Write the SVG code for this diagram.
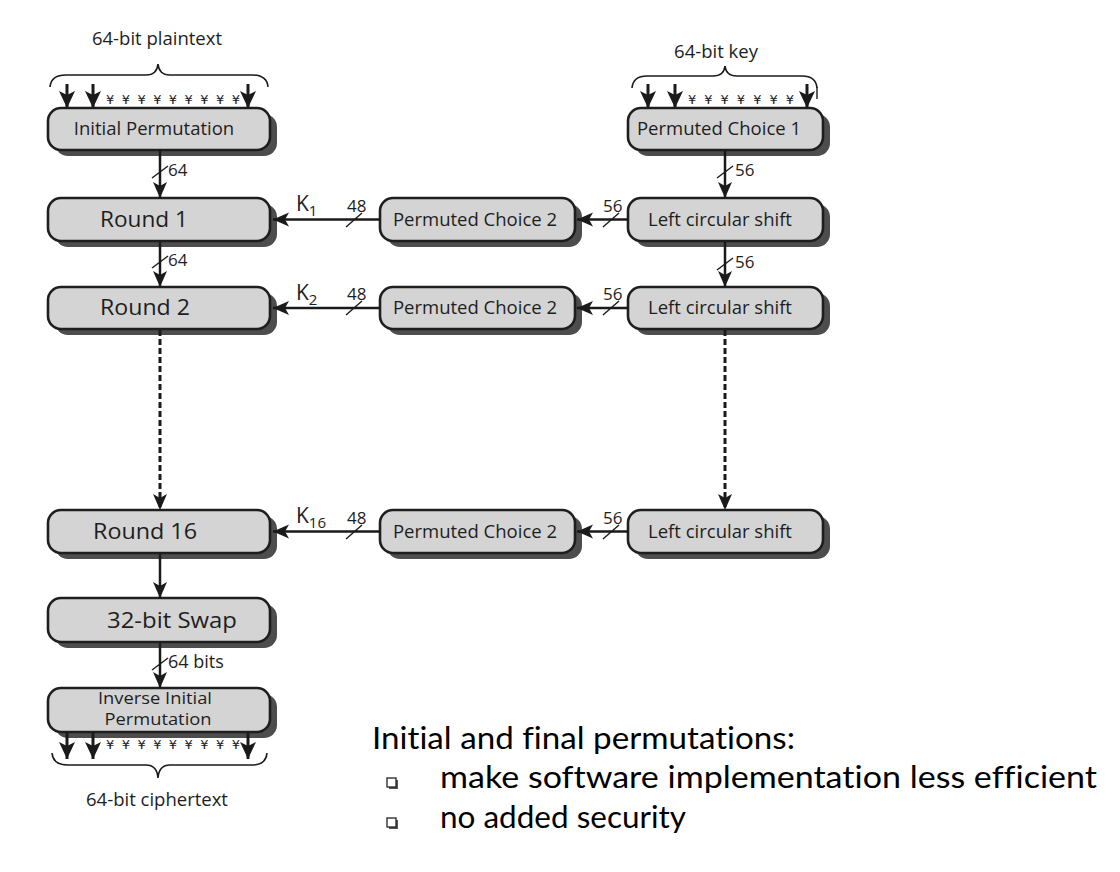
<svg xmlns="http://www.w3.org/2000/svg" width="1120" height="872" viewBox="0 0 1120 872">
<defs>
<marker id="ah" markerUnits="userSpaceOnUse" markerWidth="18" markerHeight="16" refX="16" refY="7" orient="auto">
<path d="M0,0 L16,7 L0,14 L4,7 z" fill="#1a1a1a"/>
</marker>
<marker id="ahb" markerUnits="userSpaceOnUse" markerWidth="20" markerHeight="18" refX="17" refY="8" orient="auto">
<path d="M0,0 L17,8 L0,16 L4,8 z" fill="#1a1a1a"/>
</marker>
<style>
.sh{fill:#4d4d4d}
.bx{fill:#d4d4d4;stroke:#1e1e1e;stroke-width:2.6}
.t{font-family:"Open Sans","DejaVu Sans",sans-serif;fill:#1e1e1e;text-anchor:middle}
.s{font-size:18.5px}
.lb{font-size:18.5px}
.r{font-size:21px}
.iv{font-size:16px}
.n{font-family:"Open Sans","DejaVu Sans",sans-serif;fill:#1e1e1e;font-size:17px}
.ln{stroke:#1a1a1a;stroke-width:2.5;fill:none}
.in{stroke:#1a1a1a;stroke-width:3;fill:none}
.dl{stroke:#1a1a1a;stroke-width:3;fill:none;stroke-dasharray:6 3}
.sl{stroke:#1a1a1a;stroke-width:1.4}
.br{stroke:#1a1a1a;stroke-width:1.6;fill:none}
.y{font-family:"DejaVu Sans",sans-serif;font-size:13px;fill:#1e1e1e}
.k{font-family:"Open Sans","DejaVu Sans",sans-serif;fill:#1e1e1e;font-size:21px}
.ks{font-size:15px}
.body{font-family:Lato,"Open Sans",sans-serif;fill:#000;font-size:31px;font-variant-ligatures:none}
</style>
</defs>

<!-- input/output labels and braces -->
<g id="plaintext">
<text class="t lb" x="157" y="45">64-bit plaintext</text>
<path class="br" d="M50,87 Q51,75 66,75 L146,75 Q157,75 158,64 Q159,75 170,75 L252,75 Q267,75 268,87"/>
<line class="in" x1="67" y1="84" x2="67" y2="108" marker-end="url(#ahb)"/>
<line class="in" x1="93" y1="84" x2="93" y2="108" marker-end="url(#ahb)"/>
<line class="in" x1="248" y1="84" x2="248" y2="108" marker-end="url(#ahb)"/>
<text class="y" x="106" y="104" textLength="134" lengthAdjust="spacing">¥¥¥¥¥¥¥¥¥</text>
</g>

<g id="key">
<text class="t lb" x="716" y="58">64-bit key</text>
<path class="br" d="M632,88 Q633,76 647,76 L713,76 Q724,76 725,66 Q726,76 737,76 L802,76 Q816,76 817,88"/>
<line class="in" x1="648" y1="84" x2="648" y2="108" marker-end="url(#ahb)"/>
<line class="in" x1="675" y1="84" x2="675" y2="108" marker-end="url(#ahb)"/>
<line class="in" x1="807" y1="84" x2="807" y2="108" marker-end="url(#ahb)"/>
<text class="y" x="688" y="104" textLength="106" lengthAdjust="spacing">¥¥¥¥¥¥¥</text>
<line class="sl" x1="817" y1="87" x2="817" y2="99"/>
</g>

<!-- left column -->
<g id="ip">
<rect class="sh" x="55" y="114" width="222" height="42" rx="13"/>
<rect class="bx" x="48" y="108" width="222" height="42" rx="13"/>
<text class="t s" x="154" y="135">Initial Permutation</text>
</g>
<g id="round1">
<rect class="sh" x="55" y="204" width="222" height="43" rx="13"/>
<rect class="bx" x="48" y="198" width="222" height="43" rx="13"/>
<text class="t r" x="144" y="227" textLength="88" lengthAdjust="spacingAndGlyphs">Round 1</text>
</g>
<g id="round2">
<rect class="sh" x="55" y="293" width="222" height="42" rx="13"/>
<rect class="bx" x="48" y="287" width="222" height="42" rx="13"/>
<text class="t r" x="145" y="315" textLength="90" lengthAdjust="spacingAndGlyphs">Round 2</text>
</g>
<g id="round16">
<rect class="sh" x="55" y="516" width="222" height="43" rx="13"/>
<rect class="bx" x="48" y="510" width="222" height="43" rx="13"/>
<text class="t r" x="145" y="539" textLength="104" lengthAdjust="spacingAndGlyphs">Round 16</text>
</g>
<g id="swap">
<rect class="sh" x="55" y="604" width="222" height="44" rx="13"/>
<rect class="bx" x="48" y="598" width="222" height="44" rx="13"/>
<text class="t r" x="172" y="628" textLength="130" lengthAdjust="spacingAndGlyphs">32-bit Swap</text>
</g>
<g id="iip">
<rect class="sh" x="55" y="694" width="222" height="44" rx="13"/>
<rect class="bx" x="48" y="688" width="222" height="44" rx="13"/>
<text class="t iv" x="155" y="704" textLength="114" lengthAdjust="spacingAndGlyphs">Inverse Initial</text>
<text class="t iv" x="158" y="725" textLength="107" lengthAdjust="spacingAndGlyphs">Permutation</text>
</g>

<g id="ciphertext">
<line class="in" x1="67" y1="732" x2="67" y2="759" marker-end="url(#ahb)"/>
<line class="in" x1="93" y1="732" x2="93" y2="759" marker-end="url(#ahb)"/>
<line class="in" x1="248" y1="732" x2="248" y2="759" marker-end="url(#ahb)"/>
<text class="y" x="106" y="749" textLength="134" lengthAdjust="spacing">¥¥¥¥¥¥¥¥¥</text>
<path class="br" d="M52,753 Q53,765 68,765 L146,765 Q157,765 158,778 Q159,765 170,765 L252,765 Q266,765 267,753"/>
<text class="t lb" x="157" y="806">64-bit ciphertext</text>
</g>

<!-- right column -->
<g id="pc1">
<rect class="sh" x="635" y="114" width="195" height="42" rx="13"/>
<rect class="bx" x="628" y="108" width="195" height="42" rx="13"/>
<text class="t s" x="719" y="135">Permuted Choice 1</text>
</g>
<g id="lcs1">
<rect class="sh" x="635" y="204" width="195" height="43" rx="13"/>
<rect class="bx" x="628" y="198" width="195" height="43" rx="13"/>
<text class="t s" x="720" y="226">Left circular shift</text>
</g>
<g id="lcs2">
<rect class="sh" x="635" y="293" width="195" height="42" rx="13"/>
<rect class="bx" x="628" y="287" width="195" height="42" rx="13"/>
<text class="t s" x="720" y="314">Left circular shift</text>
</g>
<g id="lcs16">
<rect class="sh" x="635" y="516" width="195" height="43" rx="13"/>
<rect class="bx" x="628" y="510" width="195" height="43" rx="13"/>
<text class="t s" x="720" y="538">Left circular shift</text>
</g>
<g id="pc2a">
<rect class="sh" x="387" y="204" width="195" height="43" rx="13"/>
<rect class="bx" x="380" y="198" width="195" height="43" rx="13"/>
<text class="t s" x="475" y="226">Permuted Choice 2</text>
</g>
<g id="pc2b">
<rect class="sh" x="387" y="293" width="195" height="42" rx="13"/>
<rect class="bx" x="380" y="287" width="195" height="42" rx="13"/>
<text class="t s" x="475" y="314">Permuted Choice 2</text>
</g>
<g id="pc2c">
<rect class="sh" x="387" y="516" width="195" height="43" rx="13"/>
<rect class="bx" x="380" y="510" width="195" height="43" rx="13"/>
<text class="t s" x="475" y="538">Permuted Choice 2</text>
</g>

<!-- connectors -->
<g id="connectors">
<line class="ln" x1="160" y1="150" x2="160" y2="198" marker-end="url(#ah)"/>
<line class="sl" x1="152" y1="178" x2="168" y2="166"/>
<text class="n" x="168" y="176">64</text>
<line class="ln" x1="160" y1="241" x2="160" y2="287" marker-end="url(#ah)"/>
<line class="sl" x1="152" y1="268" x2="168" y2="256"/>
<text class="n" x="168" y="266">64</text>
<line class="dl" x1="160" y1="330" x2="160" y2="510" marker-end="url(#ah)"/>
<line class="ln" x1="160" y1="553" x2="160" y2="598" marker-end="url(#ah)"/>
<line class="ln" x1="160" y1="642" x2="160" y2="688" marker-end="url(#ah)"/>
<line class="sl" x1="152" y1="670" x2="168" y2="658"/>
<text class="n" x="168" y="668" style="font-size:18px">64 bits</text>

<line class="ln" x1="725" y1="150" x2="725" y2="198" marker-end="url(#ah)"/>
<line class="sl" x1="717" y1="178" x2="733" y2="166"/>
<text class="n" x="735" y="176">56</text>
<line class="ln" x1="725" y1="241" x2="725" y2="287" marker-end="url(#ah)"/>
<line class="sl" x1="717" y1="270" x2="733" y2="258"/>
<text class="n" x="735" y="268">56</text>
<line class="dl" x1="725" y1="330" x2="725" y2="510" marker-end="url(#ah)"/>

<line class="ln" x1="628" y1="219.5" x2="577" y2="219.5" marker-end="url(#ah)"/>
<line class="sl" x1="603" y1="227" x2="619" y2="213"/>
<text class="n" x="603" y="212">56</text>
<line class="ln" x1="628" y1="308" x2="577" y2="308" marker-end="url(#ah)"/>
<line class="sl" x1="603" y1="315" x2="619" y2="301"/>
<text class="n" x="603" y="300">56</text>
<line class="ln" x1="628" y1="531.5" x2="577" y2="531.5" marker-end="url(#ah)"/>
<line class="sl" x1="603" y1="539" x2="619" y2="525"/>
<text class="n" x="603" y="524">56</text>

<line class="ln" x1="380" y1="219.5" x2="273" y2="219.5" marker-end="url(#ah)"/>
<line class="sl" x1="346" y1="227" x2="362" y2="213"/>
<text class="n" x="347" y="212">48</text>
<text class="k" x="296" y="211">K<tspan class="ks" dy="5">1</tspan></text>
<line class="ln" x1="380" y1="308" x2="273" y2="308" marker-end="url(#ah)"/>
<line class="sl" x1="346" y1="315" x2="362" y2="301"/>
<text class="n" x="347" y="300">48</text>
<text class="k" x="296" y="300">K<tspan class="ks" dy="5">2</tspan></text>
<line class="ln" x1="380" y1="531.5" x2="273" y2="531.5" marker-end="url(#ah)"/>
<line class="sl" x1="346" y1="539" x2="362" y2="525"/>
<text class="n" x="347" y="524">48</text>
<text class="k" x="296" y="523">K<tspan class="ks" dy="5">16</tspan></text>
</g>

<!-- notes -->
<g id="notes">
<text class="body" x="372" y="749" textLength="423" lengthAdjust="spacingAndGlyphs">Initial and final permutations:</text>
<rect x="389" y="780" width="9" height="9" fill="#555"/>
<rect x="387" y="778" width="9" height="9" fill="#fff" stroke="#222" stroke-width="1.3"/>
<text class="body" x="440" y="788" textLength="657" lengthAdjust="spacingAndGlyphs">make software implementation less efficient</text>
<rect x="389" y="820" width="9" height="9" fill="#555"/>
<rect x="387" y="818" width="9" height="9" fill="#fff" stroke="#222" stroke-width="1.3"/>
<text class="body" x="440" y="828" textLength="246" lengthAdjust="spacingAndGlyphs">no added security</text>
</g>
</svg>
